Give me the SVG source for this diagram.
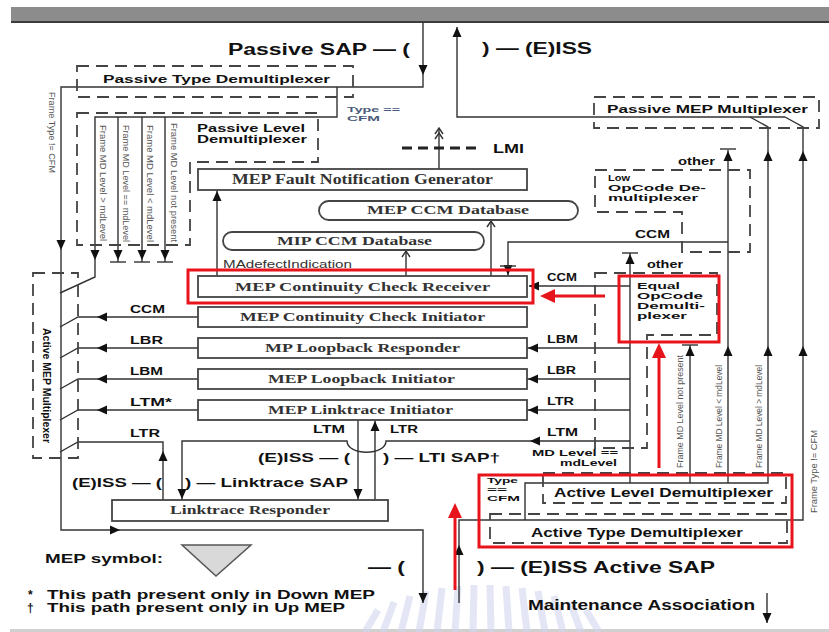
<svg xmlns="http://www.w3.org/2000/svg" xmlns:xlink="http://www.w3.org/1999/xlink" width="829" height="632" viewBox="0 0 829 632">
<style>
.b{font-family:"Liberation Sans",Arial,sans-serif;font-weight:bold;fill:#111}
.s{font-family:"Liberation Serif","Times New Roman",serif;font-weight:bold;fill:#333}
.r{font-family:"Liberation Sans",Arial,sans-serif;fill:#555;font-size:9px}
.ln{fill:none;stroke:#333;stroke-width:1.4}
.box{fill:#fff;stroke:#444;stroke-width:1.8}
.dash{fill:none;stroke:#444;stroke-width:1.8;stroke-dasharray:12 7}
.red{fill:none;stroke:#e8141b;stroke-width:3}
.ah{fill:#111}
.tc{fill:#4a5a7a}
</style>
<defs>
<path id="ah" d="M0,0 L-4.5,10 L4.5,10 Z"/>
<path id="rah" d="M0,0 L-7,15 L7,15 Z"/>
<path id="bar" d="M-8,0 H8"/>
<path id="chev" d="M-4,6 L0,0 L4,6"/>
</defs>
<rect width="829" height="632" fill="#fff"/>
<rect x="11" y="7" width="818" height="15" fill="#8c8c8c"/>
<rect x="11" y="21" width="818" height="2" fill="#3c3c3c"/>
<rect x="10" y="629" width="819" height="3" fill="#d0d0d0"/>
<g id="watermark" stroke="#d3d6f0" stroke-width="7" opacity="0.6">
<path d="M365,632 L378,610 M383,632 L394,602 M401,632 L410,596 M419,632 L426,591 M437,632 L442,588 M455,632 L458,586 M473,632 L474,585 M491,632 L490,585 M509,632 L506,586 M527,632 L522,588 M545,632 L538,591 M563,632 L554,596 M581,632 L570,602 M599,632 L586,610"/>
</g>
<g id="connectors">
<path class="ln" d="M423,22 V87 H61 V530 H423 V603"/>
<path class="ln" d="M337,87 V117 H95 V277 L60,293"/>
<path class="ln" d="M118,117 V262 M142,117 V262 M165,117 V262"/>
<path class="ln" d="M198,317 H78 L60,327 M198,348 H78 L60,358 M198,379 H78 L60,389 M198,410 H78 L60,420"/>
<path class="ln" d="M163,500 V442 H78 L60,452"/>
<path class="ln" d="M630,441 H386 C386,456 347,456 347,441 H182 V500"/>
<path class="ln" d="M358,420 V500 M375,500 V420"/>
<path class="ln" d="M217,276 V190 M439,169 V128 M406,276 V251 M491,276 V221"/>
<path class="ln" d="M728,242 H508 V276"/>
<path class="ln" d="M630,483 V253 M630,286 H529 M630,348 H527 M630,379 H527 M630,410 H527"/>
<path class="ln" d="M459,603 V520 H803 V127 L785,117 M525,520 V483 H768 V127 L750,117 M690,483 V345 M728,483 V150"/>
<path class="ln" d="M457,27 V117 H785"/>
<path class="ln" d="M767,593 V623"/>
<path d="M402,148 H477" stroke="#222" stroke-width="3" stroke-dasharray="10 6" fill="none"/>
<g class="ah">
<use xlink:href="#ah" transform="translate(423,75) rotate(180)"/>
<use xlink:href="#ah" transform="translate(61,250) rotate(180)"/>
<use xlink:href="#ah" transform="translate(120,530) rotate(90)"/>
<use xlink:href="#ah" transform="translate(423,603) rotate(180)"/>
<use xlink:href="#ah" transform="translate(95,260) rotate(180)"/>
<use xlink:href="#ah" transform="translate(118,260) rotate(180)"/>
<use xlink:href="#ah" transform="translate(142,260) rotate(180)"/>
<use xlink:href="#ah" transform="translate(165,260) rotate(180)"/>
<use xlink:href="#ah" transform="translate(97,317) rotate(-90)"/>
<use xlink:href="#ah" transform="translate(97,348) rotate(-90)"/>
<use xlink:href="#ah" transform="translate(97,379) rotate(-90)"/>
<use xlink:href="#ah" transform="translate(97,410) rotate(-90)"/>
<use xlink:href="#ah" transform="translate(163,451)"/>
<use xlink:href="#ah" transform="translate(182,499) rotate(180)"/>
<use xlink:href="#ah" transform="translate(530,441) rotate(-90)"/>
<use xlink:href="#ah" transform="translate(358,499) rotate(180)"/>
<use xlink:href="#ah" transform="translate(375,421)"/>
<use xlink:href="#ah" transform="translate(217,191)"/>
<use xlink:href="#ah" transform="translate(508,275) rotate(180)"/>
<use xlink:href="#ah" transform="translate(630,254)"/>
<use xlink:href="#ah" transform="translate(529,286) rotate(-90)"/>
<use xlink:href="#ah" transform="translate(528,348) rotate(-90)"/>
<use xlink:href="#ah" transform="translate(528,379) rotate(-90)"/>
<use xlink:href="#ah" transform="translate(528,410) rotate(-90)"/>
<use xlink:href="#ah" transform="translate(459,545)"/>
<use xlink:href="#ah" transform="translate(690,346)"/>
<use xlink:href="#ah" transform="translate(728,346)"/>
<use xlink:href="#ah" transform="translate(768,346)"/>
<use xlink:href="#ah" transform="translate(803,346)"/>
<use xlink:href="#ah" transform="translate(728,151)"/>
<use xlink:href="#ah" transform="translate(768,151)"/>
<use xlink:href="#ah" transform="translate(803,151)"/>
<use xlink:href="#ah" transform="translate(457,27)"/>
<use xlink:href="#ah" transform="translate(767,623) rotate(180)"/>
</g>
<g class="ln">
<use xlink:href="#bar" transform="translate(118,262)"/>
<use xlink:href="#bar" transform="translate(142,262)"/>
<use xlink:href="#bar" transform="translate(165,262)"/>
<use xlink:href="#bar" transform="translate(508,266)"/>
<use xlink:href="#bar" transform="translate(630,253)"/>
<use xlink:href="#bar" transform="translate(690,345)"/>
<use xlink:href="#bar" transform="translate(728,149)"/>
<use xlink:href="#chev" transform="translate(439,128)"/>
<use xlink:href="#chev" transform="translate(439,133)"/>
<use xlink:href="#chev" transform="translate(406,251)"/>
<use xlink:href="#chev" transform="translate(491,221)"/>
</g>
</g>
<g id="passive-type-demux">
<rect class="dash" x="77" y="66" width="276" height="31"/>
<text class="b" x="103" y="83" font-size="11.5" textLength="227" lengthAdjust="spacingAndGlyphs">Passive Type Demultiplexer</text>
</g>
<g id="passive-level-demux">
<path class="dash" d="M77,113 H318 V162 H190 V245 H77 Z"/>
<text class="b" x="197" y="132" font-size="10.5" textLength="108" lengthAdjust="spacingAndGlyphs">Passive Level</text>
<text class="b" x="197" y="143" font-size="10.5" textLength="110" lengthAdjust="spacingAndGlyphs">Demultiplexer</text>
<text class="r" transform="translate(100,125) rotate(90)" textLength="116" lengthAdjust="spacingAndGlyphs">Frame MD Level &gt; mdLevel</text>
<text class="r" transform="translate(123,125) rotate(90)" textLength="117" lengthAdjust="spacingAndGlyphs">Frame MD Level == mdLevel</text>
<text class="r" transform="translate(147,125) rotate(90)" textLength="117" lengthAdjust="spacingAndGlyphs">Frame MD Level &lt; mdLevel</text>
<text class="r" transform="translate(171,123) rotate(90)" textLength="119" lengthAdjust="spacingAndGlyphs">Frame MD Level not present</text>
</g>
<g id="fault-notification-generator">
<rect class="box" x="198" y="169" width="329" height="21"/>
<text class="s" x="232" y="184" font-size="14" textLength="261" lengthAdjust="spacingAndGlyphs">MEP Fault Notification Generator</text>
</g>
<g id="mep-ccm-database">
<rect class="box" x="319" y="201" width="259" height="19" rx="9.5"/>
<text class="s" x="367" y="214" font-size="13" textLength="162" lengthAdjust="spacingAndGlyphs">MEP CCM Database</text>
</g>
<g id="mip-ccm-database">
<rect class="box" x="223" y="232" width="261" height="18" rx="9"/>
<text class="s" x="277" y="245" font-size="13" textLength="155" lengthAdjust="spacingAndGlyphs">MIP CCM Database</text>
</g>
<g id="cc-receiver">
<rect class="box" x="198" y="276" width="329" height="21"/>
<text class="s" x="235" y="291" font-size="13" textLength="255" lengthAdjust="spacingAndGlyphs">MEP Continuity Check Receiver</text>
</g>
<g id="cc-initiator">
<rect class="box" x="198" y="307" width="329" height="20"/>
<text class="s" x="240" y="321" font-size="13" textLength="245" lengthAdjust="spacingAndGlyphs">MEP Continuity Check Initiator</text>
</g>
<g id="loopback-responder">
<rect class="box" x="198" y="338" width="329" height="20"/>
<text class="s" x="265" y="352" font-size="13" textLength="195" lengthAdjust="spacingAndGlyphs">MP Loopback Responder</text>
</g>
<g id="loopback-initiator">
<rect class="box" x="198" y="369" width="329" height="20"/>
<text class="s" x="268" y="383" font-size="13" textLength="187" lengthAdjust="spacingAndGlyphs">MEP Loopback Initiator</text>
</g>
<g id="linktrace-initiator">
<rect class="box" x="198" y="400" width="329" height="20"/>
<text class="s" x="268" y="414" font-size="13" textLength="185" lengthAdjust="spacingAndGlyphs">MEP Linktrace Initiator</text>
</g>
<g id="linktrace-responder">
<rect class="box" x="112" y="500" width="276" height="21"/>
<text class="s" x="170" y="514" font-size="12" textLength="160" lengthAdjust="spacingAndGlyphs">Linktrace Responder</text>
</g>
<g id="active-mep-mux">
<rect class="dash" x="33" y="273" width="45" height="185"/>
<text class="b" transform="translate(43,328) rotate(90)" font-size="11" textLength="115" lengthAdjust="spacingAndGlyphs">Active MEP Multiplexer</text>
</g>
<g id="passive-mep-mux">
<rect class="dash" x="594" y="97" width="225" height="31"/>
<text class="b" x="607" y="113" font-size="11" textLength="201" lengthAdjust="spacingAndGlyphs">Passive MEP Multiplexer</text>
</g>
<g id="low-opcode-demux">
<path class="dash" d="M595,170 H750 V252 H682 V212 H595 Z"/>
<text class="b" x="608" y="181" font-size="9" textLength="22" lengthAdjust="spacingAndGlyphs">Low</text>
<text class="b" x="608" y="191" font-size="9" textLength="98" lengthAdjust="spacingAndGlyphs">OpCode De-</text>
<text class="b" x="608" y="201" font-size="9" textLength="90" lengthAdjust="spacingAndGlyphs">multiplexer</text>
</g>
<g id="equal-opcode-demux">
<path class="dash" d="M595,273 H717 V335 H647 V448 H595 Z"/>
<text class="b" x="637" y="289" font-size="9" textLength="43" lengthAdjust="spacingAndGlyphs">Equal</text>
<text class="b" x="637" y="299" font-size="9" textLength="66" lengthAdjust="spacingAndGlyphs">OpCode</text>
<text class="b" x="637" y="309" font-size="9" textLength="68" lengthAdjust="spacingAndGlyphs">Demulti-</text>
<text class="b" x="637" y="319" font-size="9" textLength="50" lengthAdjust="spacingAndGlyphs">plexer</text>
</g>
<g id="active-level-demux">
<rect class="dash" x="543" y="473" width="243" height="30"/>
<text class="b" x="554" y="497" font-size="12" textLength="219" lengthAdjust="spacingAndGlyphs">Active Level Demultiplexer</text>
</g>
<g id="active-type-demux">
<rect class="dash" x="490" y="514" width="297" height="29"/>
<text class="b" x="531" y="537" font-size="12" textLength="212" lengthAdjust="spacingAndGlyphs">Active Type Demultiplexer</text>
</g>
<g id="mep-symbol">
<text class="b" x="45" y="563" font-size="13" textLength="118" lengthAdjust="spacingAndGlyphs">MEP symbol:</text>
<path d="M182,545 H251 L216,576 Z" fill="#d9d9d9" stroke="#555" stroke-width="1.5"/>
</g>
<g id="labels">
<text class="b" x="228" y="55" font-size="16" textLength="182" lengthAdjust="spacingAndGlyphs">Passive SAP — (</text>
<text class="b" x="482" y="54" font-size="16" textLength="110" lengthAdjust="spacingAndGlyphs">) — (E)ISS</text>
<text class="b tc" x="347" y="112" font-size="8" textLength="53" lengthAdjust="spacingAndGlyphs">Type ==</text>
<text class="b tc" x="347" y="121" font-size="8" textLength="33" lengthAdjust="spacingAndGlyphs">CFM</text>
<text class="b" x="493" y="153" font-size="13" textLength="31" lengthAdjust="spacingAndGlyphs">LMI</text>
<text class="r" x="223" y="268" style="fill:#333;font-size:10px" textLength="129" lengthAdjust="spacingAndGlyphs">MAdefectIndication</text>
<text class="r" transform="translate(49,92) rotate(90)" textLength="81" lengthAdjust="spacingAndGlyphs">Frame Type != CFM</text>
<text class="r" transform="translate(683,468) rotate(-90)" textLength="113" lengthAdjust="spacingAndGlyphs">Frame MD Level not present</text>
<text class="r" transform="translate(722,468) rotate(-90)" textLength="103" lengthAdjust="spacingAndGlyphs">Frame MD Level &lt; mdLevel</text>
<text class="r" transform="translate(762,468) rotate(-90)" textLength="103" lengthAdjust="spacingAndGlyphs">Frame MD Level &gt; mdLevel</text>
<text class="r" transform="translate(817,513) rotate(-90)" textLength="83" lengthAdjust="spacingAndGlyphs">Frame Type != CFM</text>
<g font-size="10">
<text class="b" x="130" y="313" textLength="35" lengthAdjust="spacingAndGlyphs">CCM</text>
<text class="b" x="130" y="344" textLength="33" lengthAdjust="spacingAndGlyphs">LBR</text>
<text class="b" x="130" y="375" textLength="33" lengthAdjust="spacingAndGlyphs">LBM</text>
<text class="b" x="130" y="406" textLength="42" lengthAdjust="spacingAndGlyphs">LTM*</text>
<text class="b" x="130" y="437" textLength="30" lengthAdjust="spacingAndGlyphs">LTR</text>
<text class="b" x="547" y="281" textLength="30" lengthAdjust="spacingAndGlyphs">CCM</text>
<text class="b" x="547" y="343" textLength="31" lengthAdjust="spacingAndGlyphs">LBM</text>
<text class="b" x="547" y="374" textLength="29" lengthAdjust="spacingAndGlyphs">LBR</text>
<text class="b" x="547" y="405" textLength="27" lengthAdjust="spacingAndGlyphs">LTR</text>
<text class="b" x="547" y="436" textLength="31" lengthAdjust="spacingAndGlyphs">LTM</text>
<text class="b" x="635" y="238" textLength="35" lengthAdjust="spacingAndGlyphs">CCM</text>
<text class="b" x="647" y="268" textLength="36" lengthAdjust="spacingAndGlyphs">other</text>
<text class="b" x="678" y="165" textLength="37" lengthAdjust="spacingAndGlyphs">other</text>
<text class="b" x="313" y="433" textLength="32" lengthAdjust="spacingAndGlyphs">LTM</text>
<text class="b" x="390" y="433" textLength="28" lengthAdjust="spacingAndGlyphs">LTR</text>
</g>
<text class="b" x="258" y="462" font-size="13" textLength="92" lengthAdjust="spacingAndGlyphs">(E)ISS — (</text>
<text class="b" x="383" y="462" font-size="13" textLength="117" lengthAdjust="spacingAndGlyphs">) — LTI SAP†</text>
<text class="b" x="532" y="456" font-size="8.5" textLength="86" lengthAdjust="spacingAndGlyphs">MD Level ==</text>
<text class="b" x="560" y="466" font-size="8.5" textLength="57" lengthAdjust="spacingAndGlyphs">mdLevel</text>
<text class="b" x="487" y="483" font-size="8" textLength="31" lengthAdjust="spacingAndGlyphs">Type</text>
<text class="b" x="487" y="492" font-size="8" textLength="20" lengthAdjust="spacingAndGlyphs">==</text>
<text class="b" x="487" y="501" font-size="8" textLength="33" lengthAdjust="spacingAndGlyphs">CFM</text>
<text class="b" x="72" y="487" font-size="13" textLength="90" lengthAdjust="spacingAndGlyphs">(E)ISS — (</text>
<text class="b" x="185" y="487" font-size="13" textLength="163" lengthAdjust="spacingAndGlyphs">) — Linktrace SAP</text>
<text class="b" x="368" y="573" font-size="16" textLength="37" lengthAdjust="spacingAndGlyphs">— (</text>
<text class="b" x="477" y="573" font-size="16" textLength="238" lengthAdjust="spacingAndGlyphs">) — (E)ISS Active SAP</text>
<text class="b" x="28" y="599" font-size="12">*</text>
<text class="b" x="47" y="599" font-size="12" textLength="328" lengthAdjust="spacingAndGlyphs">This path present only in Down MEP</text>
<text class="b" x="27" y="612" font-size="12">†</text>
<text class="b" x="47" y="612" font-size="12" textLength="298" lengthAdjust="spacingAndGlyphs">This path present only in Up MEP</text>
<text class="b" x="528" y="610" font-size="14" textLength="227" lengthAdjust="spacingAndGlyphs">Maintenance Association</text>
</g>
<g id="highlights">
<rect class="red" x="188" y="270" width="345" height="33"/>
<rect class="red" x="619" y="276" width="100" height="66"/>
<rect class="red" x="479" y="475" width="313" height="72"/>
<path d="M605,296 H552" stroke="#e8141b" stroke-width="3"/>
<use xlink:href="#rah" fill="#e8141b" transform="translate(540,296) rotate(-90)"/>
<path d="M659,468 V355" stroke="#e8141b" stroke-width="3"/>
<use xlink:href="#rah" fill="#e8141b" transform="translate(659,343)"/>
<path d="M455,590 V515" stroke="#e8141b" stroke-width="3"/>
<use xlink:href="#rah" fill="#e8141b" transform="translate(455,503)"/>
</g>
</svg>
